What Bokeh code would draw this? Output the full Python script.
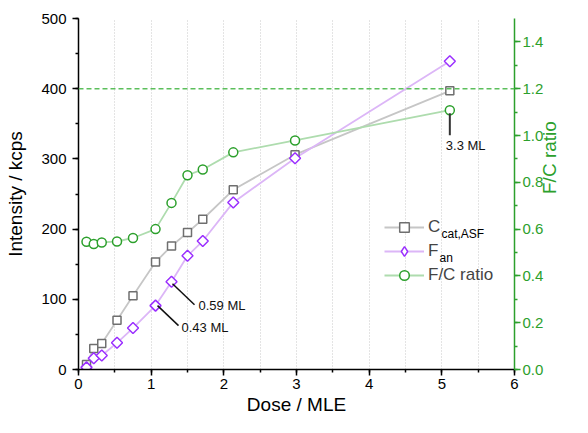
import math
from bokeh.plotting import figure
from bokeh.models import (LinearAxis, Range1d, SingleIntervalTicker, Span, Legend,
                          LegendItem, Label, PrintfTickFormatter)
from bokeh.embed import file_html
from bokeh.resources import INLINE

# ---------------- data ----------------
dose = [0.11, 0.21, 0.32, 0.53, 0.75, 1.06, 1.28, 1.50, 1.71, 2.13, 2.98, 5.11]
c_cat_asf = [7, 30, 37, 70, 105, 153, 176, 195, 214, 256, 306, 397]
f_an = [3, 16, 20, 38, 59, 91, 125, 162, 183, 238, 301, 439]
fc_ratio = [0.546, 0.536, 0.543, 0.547, 0.562, 0.600, 0.712, 0.830, 0.855, 0.928, 0.979, 1.108]
ref_ratio = 1.2
x_range = (0, 6)
y_range = (0, 500)
ratio_range = (0, 1.5)
ann_f_labels = {5: "0.43 ML", 6: "0.59 ML"}
ann_r_labels = {11: "3.3 ML"}

FONT = "Liberation Sans"
GREEN = "#2ca02c"
GRAY_M = "#6f6f6f"
GRAY_L = "#c6c6c6"
PURP_M = "#9b30ff"
PURP_L = "#dcb6f7"
GREEN_L = "#aedcae"

FW, FH = 436, 351
p = figure(frame_width=FW, frame_height=FH, output_backend="svg", toolbar_location=None,
           x_range=Range1d(*x_range), y_range=Range1d(*y_range),
           min_border_left=78, min_border_top=18, min_border_right=58, min_border_bottom=48)
p.extra_y_ranges = {"ratio": Range1d(*ratio_range)}
p.outline_line_color = None
p.background_fill_color = "white"

sx = FW / (x_range[1] - x_range[0])
sy = FH / (y_range[1] - y_range[0])
syr = FH / (ratio_range[1] - ratio_range[0])

# grid
p.ygrid.visible = False
p.xgrid.ticker = SingleIntervalTicker(interval=0.5, num_minor_ticks=0)
p.xgrid.grid_line_color = "#c8c8c8"
p.xgrid.grid_line_dash = "1 2"
p.xgrid.grid_line_width = 1

def style_axis(ax, color):
    ax.axis_line_color = color
    ax.axis_line_width = 1.5
    ax.major_tick_line_color = color
    ax.minor_tick_line_color = color
    ax.major_tick_line_width = 1.5
    ax.minor_tick_line_width = 1.5
    ax.major_tick_in = 0
    ax.major_tick_out = 6
    ax.minor_tick_in = 0
    ax.minor_tick_out = 3
    ax.major_label_text_font = FONT
    ax.major_label_text_font_size = "15px"
    ax.major_label_text_color = color
    ax.axis_label_text_font = FONT
    ax.axis_label_text_font_size = "19px"
    ax.axis_label_text_font_style = "normal"
    ax.axis_label_text_color = color
    ax.major_label_standoff = 3
    ax.axis_label_standoff = 3

xa = p.xaxis[0]
xa.ticker = SingleIntervalTicker(interval=1, num_minor_ticks=2)
xa.axis_label = "Dose / MLE"
style_axis(xa, "#000000")
xa.axis_label_standoff = 2

ya = p.yaxis[0]
ya.ticker = SingleIntervalTicker(interval=100, num_minor_ticks=2)
ya.axis_label = "Intensity / kcps"
style_axis(ya, "#000000")
ya.major_label_standoff = 6
ya.axis_label_standoff = 12

ra = LinearAxis(y_range_name="ratio", axis_label="F/C ratio",
                ticker=SingleIntervalTicker(interval=0.2, num_minor_ticks=2),
                formatter=PrintfTickFormatter(format="%.1f"))
style_axis(ra, GREEN)
ra.major_label_standoff = 2
ra.axis_label_standoff = 3
ra.axis_label_orientation = math.pi / 2
p.add_layout(ra, "right")

# reference line
p.add_layout(Span(location=ref_ratio, dimension="width", y_range_name="ratio",
                  line_color="#5cbf5c", line_dash="5 3", line_width=1.5))

# lines
l_c = p.line(dose, c_cat_asf, line_color=GRAY_L, line_width=1.8)
l_f = p.line(dose, f_an, line_color=PURP_L, line_width=1.8)
l_r = p.line(dose, fc_ratio, line_color=GREEN_L, line_width=1.8, y_range_name="ratio")

# markers
m_c = p.scatter(dose, c_cat_asf, marker="square", size=8, fill_color="white",
                line_color=GRAY_M, line_width=1.5)
# symmetric diamonds (half-diagonal R px) built around each data point
R = 5.5
dia_xs = [[x - R / sx, x, x + R / sx, x] for x in dose]
dia_ys = [[y, y + R / sy, y, y - R / sy] for y in f_an]
p.patches(dia_xs, dia_ys, fill_color="white", line_color=PURP_M, line_width=1.5)
# legend-only marker renderer (no visible point in the plot)
m_f = p.scatter([math.nan], [math.nan], marker="diamond", size=12, fill_color="white",
                line_color=PURP_M, line_width=1.5)
m_r = p.scatter(dose, fc_ratio, marker="circle", size=9, fill_color="white",
                line_color=GREEN, line_width=1.5, y_range_name="ratio")

# annotations with leader lines
seg_x0, seg_y0, seg_x1, seg_y1 = [], [], [], []
lead = {5: ((2, 0), (23, -20), (26, -22)), 6: ((1, -2), (23, -23), (27, -24))}
for i, txt in ann_f_labels.items():
    (a, b), (c, d), (tx, ty) = lead[i]
    seg_x0.append(dose[i] + a / sx); seg_y0.append(f_an[i] + b / sy)
    seg_x1.append(dose[i] + c / sx); seg_y1.append(f_an[i] + d / sy)
    p.add_layout(Label(x=dose[i], y=f_an[i], x_offset=tx, y_offset=ty, text=txt,
                       text_font=FONT, text_font_size="13px", text_baseline="middle",
                       text_color="#111111"))
p.segment(seg_x0, seg_y0, seg_x1, seg_y1, line_color="#111111", line_width=1.5)

rx0, ry0, rx1, ry1 = [], [], [], []
for i, txt in ann_r_labels.items():
    rx0.append(dose[i]); ry0.append(fc_ratio[i] - 3 / syr)
    rx1.append(dose[i]); ry1.append(fc_ratio[i] - 25 / syr)
    p.add_layout(Label(x=dose[i], y=fc_ratio[i], x_offset=-4, y_offset=-35, text=txt,
                       y_range_name="ratio", text_font=FONT, text_font_size="13px",
                       text_baseline="middle", text_color="#111111"))
p.segment(rx0, ry0, rx1, ry1, line_color="#333333", line_width=2, y_range_name="ratio")

# legend (screen units relative to the plot frame)
LEG_X, LEG_Y, ROW_H, GLYPH_W, STANDOFF = 306, 82, 24, 40, 4
legend = Legend(items=[LegendItem(label="C", renderers=[l_c, m_c]),
                       LegendItem(label="F", renderers=[l_f, m_f]),
                       LegendItem(label="F/C ratio", renderers=[l_r, m_r])],
                location=(LEG_X, LEG_Y), glyph_width=GLYPH_W, glyph_height=ROW_H, spacing=0,
                padding=0, margin=0, label_standoff=STANDOFF, border_line_color=None,
                background_fill_alpha=0, label_text_font=FONT,
                label_text_font_size="17px", label_height=ROW_H)
p.add_layout(legend)

# subscripts for legend labels
label_x0 = LEG_X + GLYPH_W + STANDOFF
for txt, row, main_w in (("cat,ASF", 2, 13), ("an", 1, 11)):
    p.add_layout(Label(x=label_x0 + main_w, y=LEG_Y + ROW_H * row + ROW_H / 2 - 6,
                       x_units="screen", y_units="screen", text=txt,
                       text_font=FONT, text_font_size="12px", text_baseline="middle",
                       text_color="#000000"))

open("out.html", "w").write(file_html(p, INLINE))
